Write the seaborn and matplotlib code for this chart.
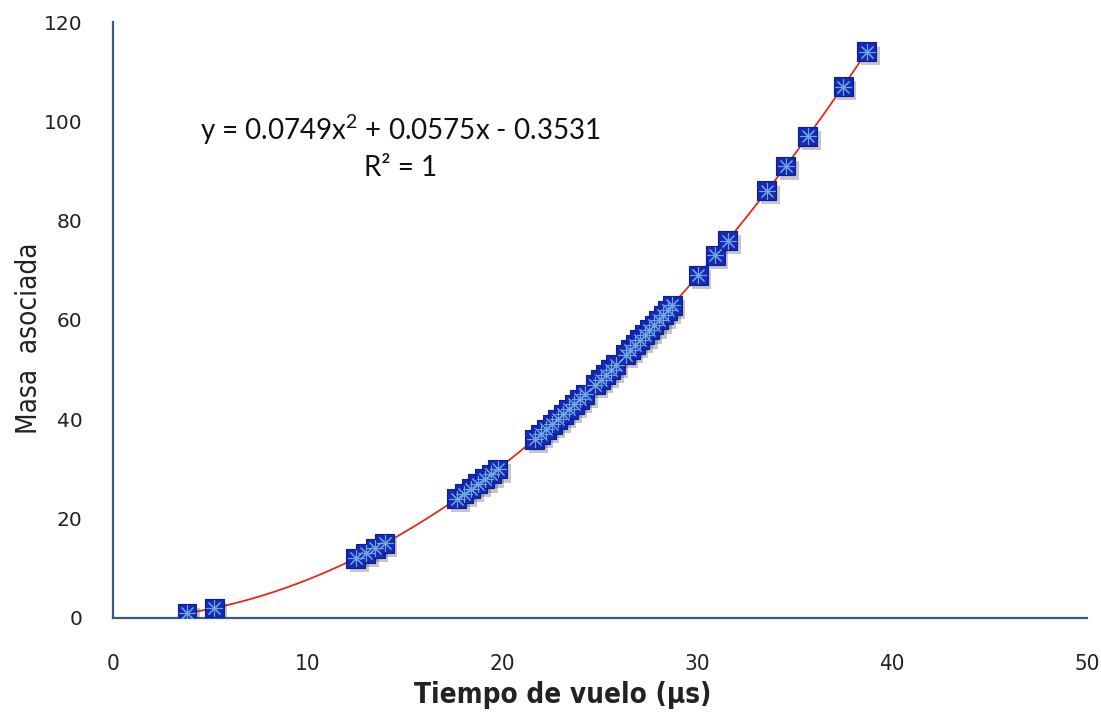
import matplotlib
matplotlib.use("Agg")
import matplotlib.pyplot as plt
import matplotlib.patheffects as pe
from matplotlib import font_manager as fm
import seaborn as sns
import pandas as pd

# Data (time of flight in µs, associated mass)
tiempo = [3.8, 5.2, 12.46, 12.97, 13.46, 13.94,
          17.65, 18.02, 18.38, 18.73, 19.08, 19.42, 19.75,
          21.65, 21.95, 22.25, 22.54, 22.83, 23.12, 23.40, 23.68, 23.95, 24.23,
          24.76, 25.03, 25.29, 25.55, 25.80, 26.31, 26.56, 26.80, 27.05, 27.29,
          27.53, 27.77, 28.01, 28.24, 28.47, 28.70,
          30.05, 30.91, 31.55, 33.57, 34.54, 35.67, 37.48, 38.69]
masa = [1, 2, 12, 13, 14, 15,
        24, 25, 26, 27, 28, 29, 30,
        36, 37, 38, 39, 40, 41, 42, 43, 44, 45,
        47, 48, 49, 50, 51, 53, 54, 55, 56, 57,
        58, 59, 60, 61, 62, 63,
        69, 73, 76, 86, 91, 97, 107, 114]

x_ticks = [0, 10, 20, 30, 40, 50]
y_ticks = [0, 20, 40, 60, 80, 100, 120]
ecuacion = "y = 0.0749x$^{2}$ + 0.0575x - 0.3531"
r2_texto = "R² = 1"
x_titulo = "Tiempo de vuelo (µs)"
y_titulo = "Masa  asociada"

df = pd.DataFrame({"tiempo": tiempo, "masa": masa})

sns.set_theme(style="white")
plt.rcParams["font.family"] = ["DejaVu Sans"]
plt.rcParams["mathtext.fontset"] = "custom"
plt.rcParams["mathtext.rm"] = "Lato"
plt.rcParams["mathtext.default"] = "regular"

names = {f.name for f in fm.fontManager.ttflist}
narrow = "Liberation Sans Narrow" if "Liberation Sans Narrow" in names else "DejaVu Sans"
narrow_kw = dict(family=[narrow, "DejaVu Sans"], stretch="condensed")

fig = plt.figure(figsize=(11.01, 7.15), dpi=100)
ax = fig.add_axes([0.1026, 0.1357, 0.8847, 0.8335])

# trendline (2nd order polynomial)
sns.regplot(data=df, x="tiempo", y="masa", order=2, ci=None, scatter=False,
            ax=ax, line_kws=dict(color="#e62a16", lw=1.3, zorder=2))

# markers
sc = ax.scatter(df["tiempo"], df["masa"], marker="s", s=185, color="#1429b6",
                edgecolors="#0d1f96", linewidths=0.8, zorder=3)
sc.set_path_effects([pe.SimplePatchShadow(offset=(2.5, -3), alpha=0.3, shadow_rgbFace="#444444"),
                     pe.Normal()])
ax.scatter(df["tiempo"], df["masa"], marker=(8, 2, 0), s=130, color="#6fa6e0",
           linewidths=0.8, zorder=4)

ax.set_xlim(0, 50)
ax.set_ylim(0, 120)
ax.set_xticks(x_ticks)
ax.set_yticks(y_ticks)
ax.set_xticklabels([str(v) for v in x_ticks], fontdict=dict(size=16, **narrow_kw),
                   color="#222222")
ax.set_yticklabels([str(v) for v in y_ticks], fontsize=14.5, color="#222222")
ax.tick_params(axis="x", length=0, pad=26)
ax.tick_params(axis="y", length=0, pad=22)

for s in ["top", "right"]:
    ax.spines[s].set_visible(False)
for s in ["left", "bottom"]:
    ax.spines[s].set_color("#3b5a80")
    ax.spines[s].set_linewidth(1.6)

ax.set_xlabel(x_titulo, fontsize=20, fontweight="bold", color="#222222", **narrow_kw)
ax.set_ylabel(y_titulo, fontsize=20, color="#222222", **narrow_kw)
ax.xaxis.set_label_coords(0.462, -0.105)
ax.yaxis.set_label_coords(-0.072, 0.47)

ax.text(0.295, 0.819, ecuacion, transform=ax.transAxes, ha="center", va="center",
        family=["Lato", "DejaVu Sans"], fontsize=20, color="#111111")
ax.text(0.295, 0.755, r2_texto, transform=ax.transAxes, ha="center", va="center",
        family=["Lato", "DejaVu Sans"], fontsize=20, color="#111111")

fig.savefig("out.png", dpi=100)
